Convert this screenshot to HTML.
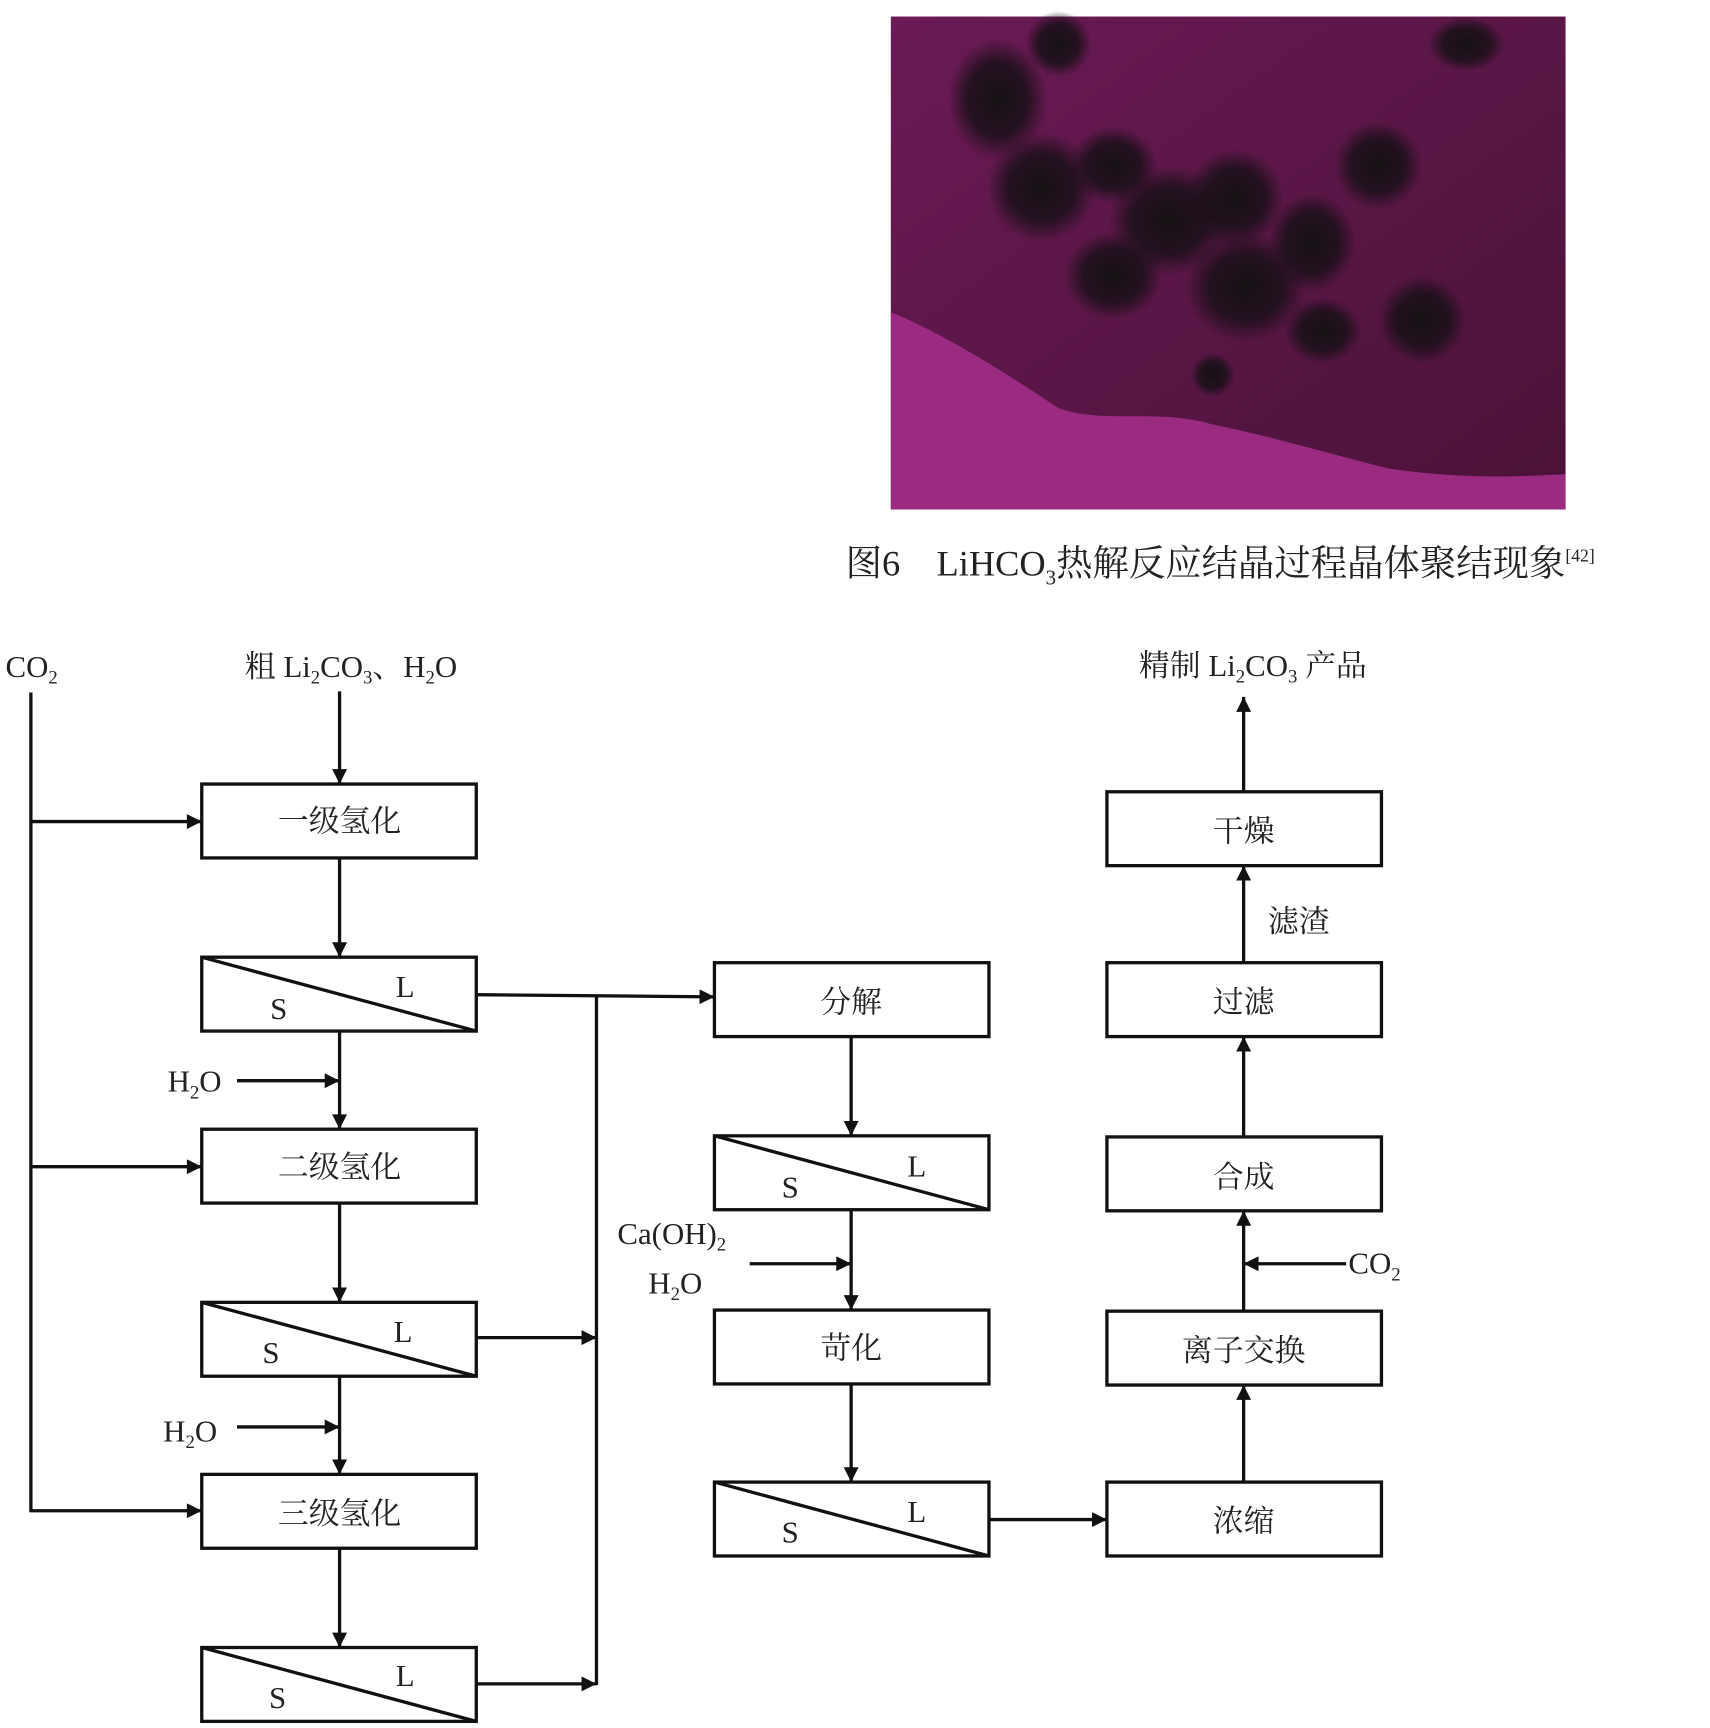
<!DOCTYPE html>
<html><head><meta charset="utf-8"><style>
html,body{margin:0;padding:0;background:#fff;}
svg{display:block;}
text{font-family:"Liberation Serif","Noto Serif CJK SC","Noto Sans CJK SC",serif;fill:#222;}
</style></head><body>
<svg width="1710" height="1728" viewBox="0 0 1551 1567" preserveAspectRatio="none" xmlns="http://www.w3.org/2000/svg">
<defs>
<marker id="a" viewBox="0 0 10 10" refX="10" refY="5" markerWidth="5" markerHeight="4.5" orient="auto"><path d="M0,0 L10,5 L0,10 z" fill="#111"/></marker>
<linearGradient id="bg" x1="0" y1="0" x2="1" y2="1"><stop offset="0" stop-color="#6a1a55"/><stop offset="1" stop-color="#4a1238"/></linearGradient>
<radialGradient id="blob"><stop offset="0" stop-color="#111" stop-opacity="0.95"/><stop offset="0.6" stop-color="#1a1018" stop-opacity="0.85"/><stop offset="1" stop-color="#1a1018" stop-opacity="0"/></radialGradient>
</defs>
<rect x="808" y="15" width="612" height="447" fill="url(#bg)"/>
<path d="M808,283 C850,300 900,330 960,370 C1000,385 1050,370 1100,385 C1150,395 1200,410 1260,425 C1330,435 1380,432 1420,430 L1420,462 L808,462 Z" fill="#9b2b80"/>
<g fill="url(#blob)">
<ellipse cx="905" cy="90" rx="45" ry="55"/><ellipse cx="960" cy="40" rx="30" ry="30"/>
<ellipse cx="945" cy="170" rx="50" ry="50"/><ellipse cx="1010" cy="150" rx="40" ry="35"/>
<ellipse cx="1060" cy="200" rx="55" ry="50"/><ellipse cx="1120" cy="180" rx="45" ry="45"/>
<ellipse cx="1010" cy="250" rx="45" ry="40"/><ellipse cx="1130" cy="260" rx="55" ry="50"/>
<ellipse cx="1190" cy="220" rx="40" ry="45"/><ellipse cx="1250" cy="150" rx="40" ry="40"/>
<ellipse cx="1290" cy="290" rx="40" ry="40"/><ellipse cx="1100" cy="340" rx="20" ry="20"/>
<ellipse cx="1330" cy="40" rx="35" ry="25"/><ellipse cx="1200" cy="300" rx="35" ry="30"/>
</g>
<text x="767" y="522" font-size="33">图6　LiHCO<tspan font-size="19" dy="8">3</tspan><tspan dy="-8">热解反应结晶过程晶体聚结现象</tspan><tspan font-size="16" dy="-13">[42]</tspan></text>

<g stroke="#111" stroke-width="3" fill="none">
<rect x="183" y="711" width="249" height="67"/>
<rect x="183" y="868" width="249" height="67"/><line x1="183" y1="868" x2="432" y2="935"/>
<rect x="183" y="1024" width="249" height="67"/>
<rect x="183" y="1181" width="249" height="67"/><line x1="183" y1="1181" x2="432" y2="1248"/>
<rect x="183" y="1337" width="249" height="67"/>
<rect x="183" y="1494" width="249" height="67"/><line x1="183" y1="1494" x2="432" y2="1561"/>
<rect x="648" y="873" width="249" height="67"/>
<rect x="648" y="1030" width="249" height="67"/><line x1="648" y1="1030" x2="897" y2="1097"/>
<rect x="648" y="1188" width="249" height="67"/>
<rect x="648" y="1344" width="249" height="67"/><line x1="648" y1="1344" x2="897" y2="1411"/>
<rect x="1004" y="718" width="249" height="67"/>
<rect x="1004" y="873" width="249" height="67"/>
<rect x="1004" y="1031" width="249" height="67"/>
<rect x="1004" y="1189" width="249" height="67"/>
<rect x="1004" y="1344" width="249" height="67"/>
<line x1="28" y1="628" x2="28" y2="1371"/>
<line x1="27" y1="745" x2="183" y2="745" marker-end="url(#a)"/>
<line x1="27" y1="1058" x2="183" y2="1058" marker-end="url(#a)"/>
<line x1="27" y1="1370" x2="183" y2="1370" marker-end="url(#a)"/>
<line x1="308" y1="627" x2="308" y2="711" marker-end="url(#a)"/>
<line x1="308" y1="778" x2="308" y2="868" marker-end="url(#a)"/>
<line x1="308" y1="935" x2="308" y2="1024" marker-end="url(#a)"/>
<line x1="215" y1="980" x2="308" y2="980" marker-end="url(#a)"/>
<line x1="308" y1="1091" x2="308" y2="1181" marker-end="url(#a)"/>
<line x1="308" y1="1248" x2="308" y2="1337" marker-end="url(#a)"/>
<line x1="215" y1="1294" x2="308" y2="1294" marker-end="url(#a)"/>
<line x1="308" y1="1404" x2="308" y2="1494" marker-end="url(#a)"/>
<line x1="541" y1="902" x2="541" y2="1528"/>
<line x1="432" y1="902" x2="648" y2="904" marker-end="url(#a)"/>
<line x1="432" y1="1213" x2="541" y2="1213" marker-end="url(#a)"/>
<line x1="432" y1="1527" x2="541" y2="1527" marker-end="url(#a)"/>
<line x1="772" y1="940" x2="772" y2="1030" marker-end="url(#a)"/>
<line x1="772" y1="1097" x2="772" y2="1188" marker-end="url(#a)"/>
<line x1="680" y1="1146" x2="772" y2="1146" marker-end="url(#a)"/>
<line x1="772" y1="1255" x2="772" y2="1344" marker-end="url(#a)"/>
<line x1="897" y1="1378" x2="1004" y2="1378" marker-end="url(#a)"/>
<line x1="1128" y1="1344" x2="1128" y2="1256" marker-end="url(#a)"/>
<line x1="1128" y1="1189" x2="1128" y2="1098" marker-end="url(#a)"/>
<line x1="1221" y1="1146" x2="1128" y2="1146" marker-end="url(#a)"/>
<line x1="1128" y1="1031" x2="1128" y2="940" marker-end="url(#a)"/>
<line x1="1128" y1="873" x2="1128" y2="785" marker-end="url(#a)"/>
<line x1="1128" y1="718" x2="1128" y2="632" marker-end="url(#a)"/>
</g>

<g font-size="28" text-anchor="middle" fill="#333">
<text x="308" y="754">一级氢化</text>
<text x="308" y="1068">二级氢化</text>
<text x="308" y="1382">三级氢化</text>
<text x="772" y="918">分解</text>
<text x="772" y="1232">苛化</text>
<text x="1128" y="763">干燥</text>
<text x="1128" y="918">过滤</text>
<text x="1128" y="1077">合成</text>
<text x="1128" y="1234">离子交换</text>
<text x="1128" y="1389">浓缩</text>
</g>
<g font-size="28">
<text x="245" y="924">S</text><text x="359" y="904">L</text>
<text x="238" y="1236">S</text><text x="357" y="1217">L</text>
<text x="244" y="1549">S</text><text x="359" y="1529">L</text>
<text x="709" y="1086">S</text><text x="823" y="1067">L</text>
<text x="709" y="1399">S</text><text x="823" y="1380">L</text>
<text x="5" y="614">CO<tspan font-size="17" dy="6">2</tspan></text>
<text x="222" y="614">粗 Li<tspan font-size="17" dy="6">2</tspan><tspan dy="-6">CO</tspan><tspan font-size="17" dy="6">3</tspan><tspan dy="-6">、H</tspan><tspan font-size="17" dy="6">2</tspan><tspan dy="-6">O</tspan></text>
<text x="152" y="990">H<tspan font-size="17" dy="6">2</tspan><tspan dy="-6">O</tspan></text>
<text x="148" y="1307">H<tspan font-size="17" dy="6">2</tspan><tspan dy="-6">O</tspan></text>
<text x="560" y="1128">Ca(OH)<tspan font-size="17" dy="6">2</tspan></text>
<text x="588" y="1173">H<tspan font-size="17" dy="6">2</tspan><tspan dy="-6">O</tspan></text>
<text x="1223" y="1155">CO<tspan font-size="17" dy="6">2</tspan></text>
<text x="1150" y="845">滤渣</text>
<text x="1033" y="613">精制 Li<tspan font-size="17" dy="6">2</tspan><tspan dy="-6">CO</tspan><tspan font-size="17" dy="6">3</tspan><tspan dy="-6"> 产品</tspan></text>
</g>
</svg>
</body></html>
